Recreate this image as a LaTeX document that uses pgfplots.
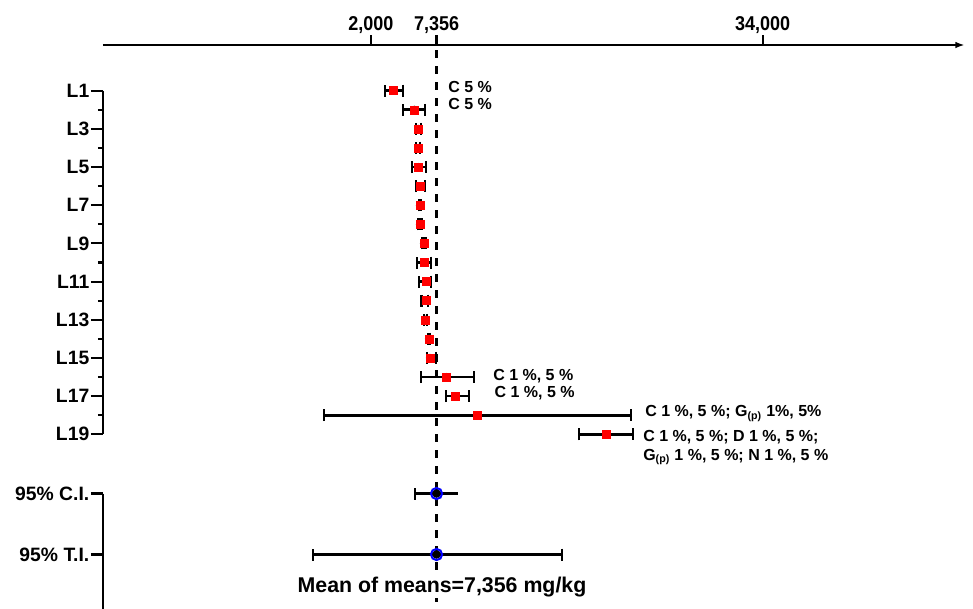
\documentclass[border=0pt]{standalone}
\usepackage{pgfplots}
\pgfplotsset{compat=1.18}
\usepackage{pgfplotstable}
\usepackage{fontspec}
\setmainfont{Liberation Sans}
\newfontfamily\narrowfont[FakeStretch=0.9]{Liberation Sans}
\usetikzlibrary{arrows.meta}

% laboratory means with lower / upper error half-widths (mg/kg)
\pgfplotstableread{
row val lo hi
1 3824 680 820
2 5539 900 875
3 5866 200 200
4 5866 165 165
5 5866 540 630
6 6005 350 410
7 6005 40 40
8 6005 120 120
9 6332 120 120
10 6332 545 545
11 6495 545 410
12 6495 370 160
13 6471 120 120
14 6740 40 40
15 6822 270 490
16 8186 2125 2230
17 8864 735 1145
18 10686 12525 12555
19 21258 2240 2175
}\labdata

\pgfplotsset{
  base/.style={scale only axis, width=646.3pt, xmin=-19900, xmax=50500,
    clip=false, anchor=north west, scaled x ticks=false},
  ylabs/.style={tick align=outside, major tick length=9pt, minor tick length=3.75pt,
    tick style={black, line width=1.6pt},
    y axis line style={-, line width=1.7pt},
    yticklabel style={font=\bfseries\fontsize{14.5}{16}\selectfont, inner sep=1pt}},
  ebars/.style={black, line width=2pt, error bars/.cd, x explicit,
    error bar style={black, line width=2pt, solid},
    error mark options={black, line width=1.7pt, mark size=4.5pt, rotate=90}},
}

\begin{document}
\begin{tikzpicture}
\path[use as bounding box] (0,0) rectangle (729.75pt,-456pt);

% top value axis and mean line
\begin{axis}[base, at={(77.18pt,-33.75pt)}, height=422.25pt, ymin=0, ymax=1,
  axis x line=top, axis y line=none,
  x axis line style={line width=1.7pt, -{Latex[length=7pt,width=5pt]}},
  xtick={2000,7356,34000}, xticklabels={{2,000},{7,356},{34,000}},
  tick align=outside, major tick length=7.5pt,
  tick style={black, line width=1.6pt},
  xticklabel style={font=\narrowfont\bfseries\fontsize{15}{17}\selectfont, inner sep=1pt}]
\addplot[black, line width=1.8pt, dash pattern=on 6pt off 6pt]
  coordinates {(7356,0.991) (7356,-0.05)};
\end{axis}

% laboratories
\begin{axis}[base, at={(77.18pt,-68.03pt)}, height=257.7pt, ymin=1, ymax=19,
  y dir=reverse, axis x line=none, axis y line=left, ylabs,
  ytick={1,3,...,19}, yticklabels={L1,L3,L5,L7,L9,L11,L13,L15,L17,L19},
  minor ytick={2,4,...,18}]
\addplot[only marks, mark=none, ebars, x dir=both]
  table[x=val, y=row, x error minus=lo, x error plus=hi] {\labdata};
\addplot[only marks, mark=square*, mark size=3pt, red]
  table[x=val, y=row] {\labdata};
\begin{scope}[every node/.style={anchor=base west, inner sep=0pt,
    font=\bfseries\fontsize{12}{14}\selectfont}]
\node[yshift=-1pt] at (axis cs:8292,1) {C 5 \%};
\node at (axis cs:8292,2) {C 5 \%};
\node[yshift=-2.25pt] at (axis cs:11969,16) {C 1 \%, 5 \%};
\node[yshift=-0.7pt] at (axis cs:12075,17) {C 1 \%, 5 \%};
\node[yshift=-1.1pt] at (axis cs:24387,18) {C 1 \%, 5 \%; G\textsubscript{(p)} 1\%, 5\%};
\node[yshift=-5.5pt] at (axis cs:24224,19) {C 1 \%, 5 \%; D 1 \%, 5 \%;};
\node[yshift=-19.3pt] at (axis cs:24224,19) {G\textsubscript{(p)} 1 \%, 5 \%; N 1 \%, 5 \%};
\end{scope}
\end{axis}

% summary intervals: row 0 = 95% C.I., row 1 = 95% T.I.
\begin{axis}[base, at={(77.18pt,-370.13pt)}, height=86.9pt, ymin=0, ymax=1.9,
  y dir=reverse, axis x line=none, axis y line=left, ylabs,
  ytick={0,1}, yticklabels={95\% C.I., 95\% T.I.}]
% lower halves, capped
\addplot[only marks, mark=none, ebars, x dir=minus]
  coordinates {(7356,0) -= (1732,0) (7356,1) -= (10074,0)};
% upper half of the tolerance interval, capped
\addplot[only marks, mark=none, ebars, x dir=plus]
  coordinates {(7356,1) += (10261,0)};
% upper half of the confidence interval, without cap
\addplot[only marks, mark=none, ebars, x dir=plus,
  error mark options={black, line width=1.7pt, mark size=0pt}]
  coordinates {(7356,0) += (1732,0)};
\addplot[only marks, mark=o, mark size=4.2pt, blue, line width=1.5pt]
  coordinates {(7356,0) (7356,1)};
\node[anchor=base, fill=white, inner sep=1pt,
  font=\bfseries\fontsize{16}{18}\selectfont] at (axis cs:7802,1.615)
  {Mean of means=7,356 mg/kg};
\end{axis}
\end{tikzpicture}
\end{document}
